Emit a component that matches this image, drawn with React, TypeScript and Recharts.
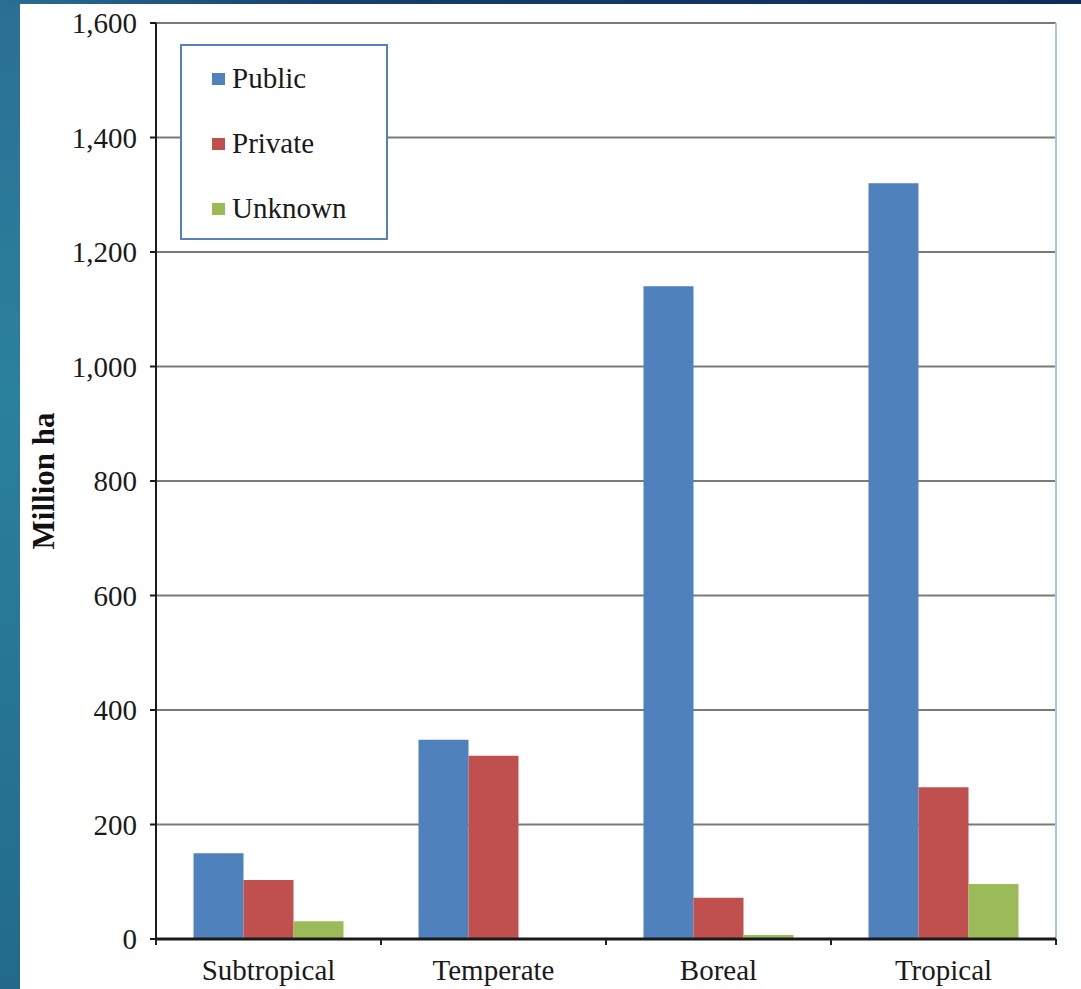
import React from "react";
import {
  BarChart,
  Bar,
  XAxis,
  YAxis,
  CartesianGrid,
  Legend,
  ReferenceLine,
} from "recharts";

const categories = ["Subtropical", "Temperate", "Boreal", "Tropical"];
const publicValues = [150, 348, 1140, 1320];
const privateValues = [103, 320, 72, 265];
const unknownValues = [31, 0, 7, 96];
const yTicks = [0, 200, 400, 600, 800, 1000, 1200, 1400, 1600];
const seriesNames = ["Public", "Private", "Unknown"];

const data = categories.map((name, i) => ({
  name,
  public: publicValues[i],
  private: privateValues[i],
  unknown: unknownValues[i],
}));

const FONT = "'Liberation Serif', 'Times New Roman', serif";

// category label plus tick marks on the band edges, like the original
const CategoryTick = (props: any) => {
  const { x, y, payload, index, visibleTicksCount } = props;
  const half = payload.offset ?? 0;
  const axisY = y - 20;
  const isLast = index === (visibleTicksCount ?? categories.length) - 1;
  return (
    <g>
      <line x1={x - half} x2={x - half} y1={axisY} y2={axisY + 6} stroke="#222" strokeWidth={2} />
      {isLast && (
        <line x1={x + half} x2={x + half} y1={axisY} y2={axisY + 6} stroke="#222" strokeWidth={2} />
      )}
      <text x={x} y={y} dy="0.71em" textAnchor="middle" fill="#1a1a1a" fontSize={29} fontFamily={FONT}>
        {payload.value}
      </text>
    </g>
  );
};

const renderLegend = (props: any) => {
  const items = [...(props.payload || [])].sort(
    (a: any, b: any) => seriesNames.indexOf(a.value) - seriesNames.indexOf(b.value)
  );
  return (
    <div style={{ paddingLeft: 30, fontFamily: FONT, fontSize: 29, color: "#1a1a1a" }}>
      {items.map((entry: any) => (
        <div
          key={entry.value}
          style={{ display: "flex", alignItems: "center", height: 65 }}
        >
          <span
            style={{
              display: "inline-block",
              width: 13,
              height: 12,
              background: entry.color,
              marginRight: 7,
            }}
          />
          <span>{entry.value}</span>
        </div>
      ))}
    </div>
  );
};

export default function App() {
  return (
    <div
      style={{
        position: "absolute",
        left: 0,
        top: 0,
        width: 1081,
        height: 989,
        background: "linear-gradient(180deg, #2b6f95 0%, #2a819d 40%, #236a8a 100%)",
        overflow: "hidden",
      }}
    >
      <div
        style={{
          position: "absolute",
          left: 0,
          top: 0,
          width: 1081,
          height: 4,
          background: "linear-gradient(90deg, #2a6f95 0%, #163f70 30%, #0f2b5c 100%)",
        }}
      />
      <div
        style={{
          position: "absolute",
          left: 20,
          top: 4,
          width: 1061,
          height: 985,
          background: "#ffffff",
        }}
      />
      <div style={{ position: "absolute", left: 0, top: 0 }}>
        <BarChart
          width={1081}
          height={989}
          data={data}
          margin={{ top: 23, right: 25, bottom: 0, left: 0 }}
          barCategoryGap="16.67%"
          barGap={0}
        >
          <CartesianGrid vertical={false} stroke="#7a7a7a" strokeWidth={2} />
          <XAxis
            dataKey="name"
            height={50}
            tickLine={false}
            tickSize={0}
            tickMargin={20}
            axisLine={{ stroke: "#1a1a1a", strokeWidth: 3 }}
            tick={<CategoryTick />}
            interval={0}
          />
          <YAxis
            width={156}
            domain={[0, 1600]}
            ticks={yTicks}
            tickFormatter={(v: number) => v.toLocaleString("en-US")}
            tickSize={6}
            tickMargin={13}
            axisLine={{ stroke: "#1a1a1a", strokeWidth: 2 }}
            tickLine={{ stroke: "#1a1a1a", strokeWidth: 2 }}
            tick={{ fill: "#1a1a1a", fontSize: 29, fontFamily: FONT }}
            label={{
              value: "Million ha",
              angle: -90,
              position: "insideLeft",
              offset: 43,
              style: {
                textAnchor: "middle",
                fontWeight: "bold",
                fontSize: 31,
                fontFamily: FONT,
                fill: "#111",
              },
            }}
          />
          <ReferenceLine x="Tropical" position="end" stroke="#a9c4e4" strokeWidth={2} />
          <Legend
            layout="vertical"
            align="center"
            verticalAlign="middle"
            content={renderLegend}
            wrapperStyle={{
              left: 180,
              top: 44,
              width: 208,
              height: 196,
              border: "2px solid #5a7fbf",
              background: "#ffffff",
              boxSizing: "border-box",
            }}
          />
          <Bar dataKey="public" name="Public" fill="#4f81bd" isAnimationActive={false} />
          <Bar dataKey="private" name="Private" fill="#c0504d" isAnimationActive={false} />
          <Bar dataKey="unknown" name="Unknown" fill="#9bbb59" isAnimationActive={false} />
        </BarChart>
      </div>
    </div>
  );
}
